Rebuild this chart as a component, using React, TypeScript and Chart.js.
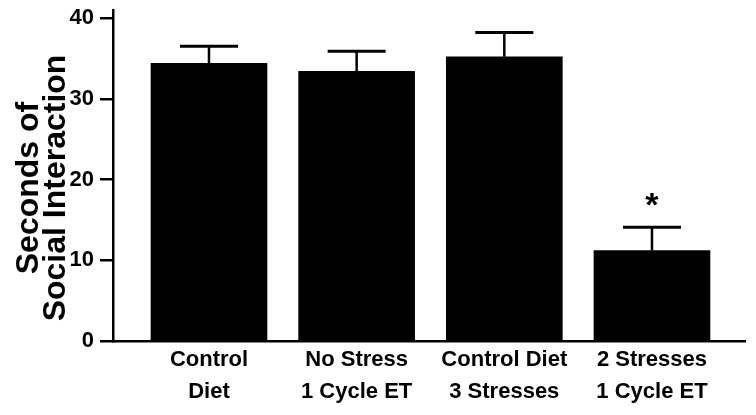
import React, { useEffect, useRef } from "react";
import { Chart, registerables } from "chart.js";

Chart.register(...registerables);

const categories: string[][] = [
  ["Control", "Diet"],
  ["No Stress", "1 Cycle ET"],
  ["Control Diet", "3 Stresses"],
  ["2 Stresses", "1 Cycle ET"],
];
const means: number[] = [34.4, 33.4, 35.2, 11.2];
const sem: number[] = [2.1, 2.5, 3.0, 2.9];
const significance: string[] = ["", "", "", "*"];
const yTicks: number[] = [0, 10, 20, 30, 40];
const yTitle: string[] = ["Seconds of", "Social Interaction"];

const FONT = "'Liberation Sans', Arial, Helvetica, sans-serif";

const errorBarPlugin = {
  id: "errorBars",
  afterDatasetsDraw(chart: any) {
    const ctx = chart.ctx;
    const meta = chart.getDatasetMeta(0);
    const yScale = chart.scales.y;
    ctx.save();
    ctx.strokeStyle = "#000";
    ctx.fillStyle = "#000";
    meta.data.forEach((bar: any, i: number) => {
      const x = bar.x;
      const yTop = yScale.getPixelForValue(means[i]);
      const yCap = yScale.getPixelForValue(means[i] + sem[i]);
      ctx.lineWidth = 2.5;
      ctx.beginPath();
      ctx.moveTo(x, yTop);
      ctx.lineTo(x, yCap);
      ctx.stroke();
      ctx.lineWidth = 3;
      ctx.beginPath();
      ctx.moveTo(x - 29, yCap);
      ctx.lineTo(x + 29, yCap);
      ctx.stroke();
      if (significance[i]) {
        const size = 34;
        ctx.font = `bold ${size}px ${FONT}`;
        ctx.textAlign = "center";
        ctx.textBaseline = "alphabetic";
        const center = yCap - 31;
        ctx.fillText(significance[i], x, center + 0.57 * size);
      }
    });
    ctx.restore();
  },
};

const yTitlePlugin = {
  id: "yTitle",
  afterDraw(chart: any) {
    const ctx = chart.ctx;
    ctx.save();
    ctx.fillStyle = "#000";
    ctx.font = `bold 32px ${FONT}`;
    ctx.textAlign = "center";
    ctx.textBaseline = "alphabetic";
    ctx.translate(0, 188);
    ctx.rotate(-Math.PI / 2);
    ctx.fillText(yTitle[0], 0, 38);
    ctx.fillText(yTitle[1], 0, 65);
    ctx.restore();
  },
};

export default function App() {
  const canvasRef = useRef<HTMLCanvasElement | null>(null);

  useEffect(() => {
    if (!canvasRef.current) return;
    const chart = new Chart(canvasRef.current, {
      type: "bar",
      data: {
        datasets: [
          {
            data: means.map((m, i) => ({ x: i, y: m })),
            backgroundColor: "#000",
            borderWidth: 0,
            barThickness: 116,
          } as any,
        ],
      },
      options: {
        animation: false,
        responsive: true,
        maintainAspectRatio: false,
        devicePixelRatio: 1,
        layout: { padding: { top: 10, right: 11, left: 0, bottom: 0 } },
        plugins: {
          legend: { display: false },
          tooltip: { enabled: false },
          title: { display: false },
        },
        scales: {
          x: {
            type: "linear",
            offset: false,
            min: -0.65,
            max: 3.63,
            afterBuildTicks: (s: any) => {
              s.ticks = categories.map((_, i) => ({ value: i }));
            },
            afterFit: (s: any) => {
              s.height = 74;
              s.paddingLeft = 0;
              s.paddingRight = 0;
            },
            border: { display: true, color: "#000", width: 2.5 },
            grid: { display: false, drawTicks: false, drawOnChartArea: false, offset: false },
            ticks: {
              autoSkip: false,
              maxRotation: 0,
              minRotation: 0,
              padding: 3,
              color: "#000",
              font: { family: FONT, size: 22, weight: "bold", lineHeight: 1.45 },
              callback: (v: any) => categories[Math.round(Number(v))] ?? "",
            },
          },
          y: {
            min: 0,
            max: 41,
            afterBuildTicks: (s: any) => {
              s.ticks = yTicks.map((v) => ({ value: v }));
            },
            afterFit: (s: any) => {
              s.width = 113;
              s.paddingTop = 0;
              s.paddingBottom = 0;
            },
            border: { display: true, color: "#000", width: 2.5 },
            grid: {
              display: true,
              drawOnChartArea: false,
              drawTicks: true,
              tickLength: 13,
              color: "#000",
              lineWidth: 2.5,
            },
            ticks: {
              padding: 6,
              color: "#000",
              font: { family: FONT, size: 22, weight: "bold" },
            },
          },
        },
      } as any,
      plugins: [errorBarPlugin, yTitlePlugin],
    });
    return () => chart.destroy();
  }, []);

  return (
    <div
      style={{
        position: "fixed",
        left: 0,
        top: 0,
        width: 756,
        height: 415,
        background: "#fff",
      }}
    >
      <canvas ref={canvasRef} />
    </div>
  );
}
